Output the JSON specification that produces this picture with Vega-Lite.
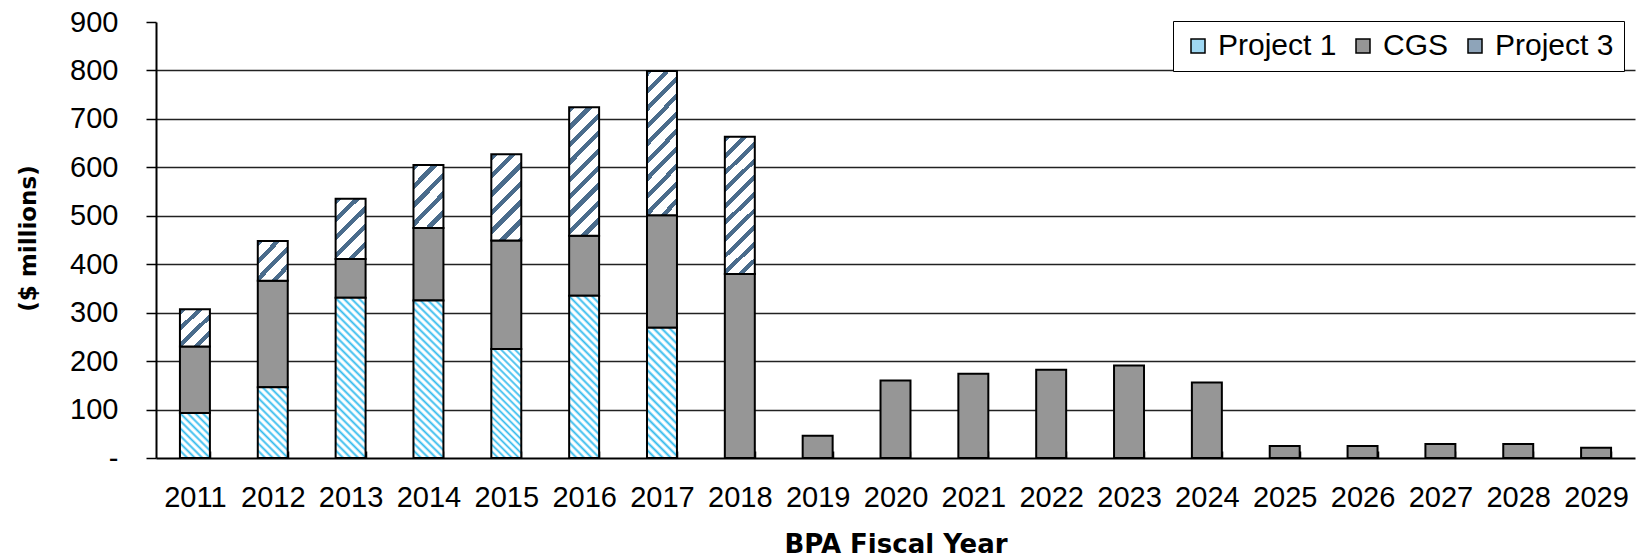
{
  "$schema": "https://vega.github.io/schema/vega-lite/v6.json",
  "autosize": {"type": "none"},
  "padding": {"left": 156, "top": 22, "right": 2, "bottom": 100},
  "width": 1479,
  "height": 436,
  "background": "white",
  "config": {"view": {"stroke": null}},
  "data": {
    "values": [
      {"year": "2011", "series": "Project 1", "value": 93},
      {"year": "2012", "series": "Project 1", "value": 146},
      {"year": "2013", "series": "Project 1", "value": 331},
      {"year": "2014", "series": "Project 1", "value": 325},
      {"year": "2015", "series": "Project 1", "value": 225},
      {"year": "2016", "series": "Project 1", "value": 335},
      {"year": "2017", "series": "Project 1", "value": 269},
      {"year": "2011", "series": "CGS", "value": 137},
      {"year": "2012", "series": "CGS", "value": 220},
      {"year": "2013", "series": "CGS", "value": 80},
      {"year": "2014", "series": "CGS", "value": 150},
      {"year": "2015", "series": "CGS", "value": 224},
      {"year": "2016", "series": "CGS", "value": 124},
      {"year": "2017", "series": "CGS", "value": 232},
      {"year": "2018", "series": "CGS", "value": 380},
      {"year": "2019", "series": "CGS", "value": 46},
      {"year": "2020", "series": "CGS", "value": 160},
      {"year": "2021", "series": "CGS", "value": 174},
      {"year": "2022", "series": "CGS", "value": 182},
      {"year": "2023", "series": "CGS", "value": 191},
      {"year": "2024", "series": "CGS", "value": 156},
      {"year": "2025", "series": "CGS", "value": 25},
      {"year": "2026", "series": "CGS", "value": 25},
      {"year": "2027", "series": "CGS", "value": 29},
      {"year": "2028", "series": "CGS", "value": 29},
      {"year": "2029", "series": "CGS", "value": 21},
      {"year": "2011", "series": "Project 3", "value": 77},
      {"year": "2012", "series": "Project 3", "value": 82},
      {"year": "2013", "series": "Project 3", "value": 124},
      {"year": "2014", "series": "Project 3", "value": 130},
      {"year": "2015", "series": "Project 3", "value": 178},
      {"year": "2016", "series": "Project 3", "value": 265},
      {"year": "2017", "series": "Project 3", "value": 298},
      {"year": "2018", "series": "Project 3", "value": 283}
    ]
  },
  "transform": [
    {"calculate": "indexof(['Project 1', 'CGS', 'Project 3'], datum.series)", "as": "ord"},
    {"stack": "value", "groupby": ["year"], "sort": [{"field": "ord", "order": "ascending"}], "as": ["lo", "hi"]}
  ],
  "encoding": {
    "x": {
      "field": "year",
      "type": "nominal",
      "scale": {
        "domain": ["2011","2012","2013","2014","2015","2016","2017","2018","2019","2020","2021","2022","2023","2024","2025","2026","2027","2028","2029"],
        "paddingInner": 0.615,
        "paddingOuter": 0.3075
      },
      "axis": {
        "title": "BPA Fiscal Year",
        "labelAngle": 0,
        "labelFont": "Liberation Sans",
        "labelFontSize": 29,
        "labelColor": "black",
        "labelPadding": 32,
        "tickBand": "extent",
        "tickSize": -7,
        "tickColor": "black",
        "tickWidth": 1.5,
        "domainColor": "black",
        "domainWidth": 2,
        "grid": false,
        "titleFont": "DejaVu Sans",
        "titleFontSize": 26,
        "titleFontWeight": "bold",
        "titleColor": "black",
        "titleY": 94,
        "titleBaseline": "alphabetic"
      }
    },
    "y": {
      "field": "hi",
      "type": "quantitative",
      "scale": {"domain": [0, 900], "nice": false},
      "axis": {
        "title": "($ millions)",
        "values": [0, 100, 200, 300, 400, 500, 600, 700, 800, 900],
        "grid": true,
        "gridColor": "#222",
        "gridWidth": 1.5,
        "gridOpacity": {"condition": {"test": "datum.value === 0 || datum.value === 900", "value": 0}, "value": 1},
        "domainColor": "black",
        "domainWidth": 2,
        "tickColor": "black",
        "tickSize": 10,
        "tickWidth": 1.5,
        "labelFont": "Liberation Sans",
        "labelFontSize": 29,
        "labelColor": "black",
        "labelPadding": 28,
        "labelExpr": "datum.value === 0 ? '-\u00a0\u00a0\u00a0\u00a0' : datum.label",
        "titleFont": "DejaVu Sans",
        "titleFontSize": 23,
        "titleFontWeight": "bold",
        "titleColor": "black",
        "titleAngle": -90,
        "titleAlign": "center",
        "titleBaseline": "middle",
        "titleX": -128,
        "titleY": 216
      }
    },
    "y2": {"field": "lo"}
  },
  "layer": [
    {
      "transform": [{"filter": "datum.series === 'CGS'"}],
      "mark": {"type": "bar", "stroke": "black", "strokeWidth": 2},
      "encoding": {
        "fill": {
          "field": "series",
          "type": "nominal",
          "scale": {"domain": ["Project 1", "CGS", "Project 3"], "range": ["#9fd8f3", "#969696", "#8ea4b9"]},
          "legend": {
            "orient": "none",
            "legendX": 1017,
            "legendY": -1,
            "direction": "horizontal",
            "gridAlign": "none",
            "title": null,
            "fillColor": "white",
            "strokeColor": "black",
            "padding": 10,
            "labelFont": "Liberation Sans",
            "labelFontSize": 30,
            "labelColor": "black",
            "labelOffset": 5,
            "columnPadding": 11,
            "symbolType": "square",
            "symbolSize": 196,
            "symbolStrokeColor": "black",
            "symbolStrokeWidth": 1.5
          }
        }
      }
    },
    {
      "transform": [{"filter": "datum.series === 'Project 1' && indexof(['2013', '2014', '2016'], datum.year) >= 0"}],
      "mark": {"type": "bar", "stroke": "black", "strokeWidth": 2, "fill": {"gradient": "linear", "x1": 0, "y1": 1, "x2": 0.2151, "y2": -0.1472, "stops": [{"offset":0,"color":"#3be"},{"offset":0.014,"color":"#fff"},{"offset":0.026,"color":"#fff"},{"offset":0.04,"color":"#3be"},{"offset":0.054,"color":"#fff"},{"offset":0.066,"color":"#fff"},{"offset":0.08,"color":"#3be"},{"offset":0.094,"color":"#fff"},{"offset":0.106,"color":"#fff"},{"offset":0.12,"color":"#3be"},{"offset":0.134,"color":"#fff"},{"offset":0.146,"color":"#fff"},{"offset":0.16,"color":"#3be"},{"offset":0.174,"color":"#fff"},{"offset":0.186,"color":"#fff"},{"offset":0.2,"color":"#3be"},{"offset":0.214,"color":"#fff"},{"offset":0.226,"color":"#fff"},{"offset":0.24,"color":"#3be"},{"offset":0.254,"color":"#fff"},{"offset":0.266,"color":"#fff"},{"offset":0.28,"color":"#3be"},{"offset":0.294,"color":"#fff"},{"offset":0.306,"color":"#fff"},{"offset":0.32,"color":"#3be"},{"offset":0.334,"color":"#fff"},{"offset":0.346,"color":"#fff"},{"offset":0.36,"color":"#3be"},{"offset":0.374,"color":"#fff"},{"offset":0.386,"color":"#fff"},{"offset":0.4,"color":"#3be"},{"offset":0.414,"color":"#fff"},{"offset":0.426,"color":"#fff"},{"offset":0.44,"color":"#3be"},{"offset":0.454,"color":"#fff"},{"offset":0.466,"color":"#fff"},{"offset":0.48,"color":"#3be"},{"offset":0.494,"color":"#fff"},{"offset":0.506,"color":"#fff"},{"offset":0.52,"color":"#3be"},{"offset":0.534,"color":"#fff"},{"offset":0.546,"color":"#fff"},{"offset":0.56,"color":"#3be"},{"offset":0.574,"color":"#fff"},{"offset":0.586,"color":"#fff"},{"offset":0.6,"color":"#3be"},{"offset":0.614,"color":"#fff"},{"offset":0.626,"color":"#fff"},{"offset":0.64,"color":"#3be"},{"offset":0.654,"color":"#fff"},{"offset":0.666,"color":"#fff"},{"offset":0.68,"color":"#3be"},{"offset":0.694,"color":"#fff"},{"offset":0.706,"color":"#fff"},{"offset":0.72,"color":"#3be"},{"offset":0.734,"color":"#fff"},{"offset":0.746,"color":"#fff"},{"offset":0.76,"color":"#3be"},{"offset":0.774,"color":"#fff"},{"offset":0.786,"color":"#fff"},{"offset":0.8,"color":"#3be"},{"offset":0.814,"color":"#fff"},{"offset":0.826,"color":"#fff"},{"offset":0.84,"color":"#3be"},{"offset":0.854,"color":"#fff"},{"offset":0.866,"color":"#fff"},{"offset":0.88,"color":"#3be"},{"offset":0.894,"color":"#fff"},{"offset":0.906,"color":"#fff"},{"offset":0.92,"color":"#3be"},{"offset":0.934,"color":"#fff"},{"offset":0.946,"color":"#fff"},{"offset":0.96,"color":"#3be"},{"offset":0.974,"color":"#fff"},{"offset":0.986,"color":"#fff"},{"offset":1,"color":"#3be"}]}}
    },
    {
      "transform": [{"filter": "datum.series === 'Project 1' && datum.year === '2017'"}],
      "mark": {"type": "bar", "stroke": "black", "strokeWidth": 2, "fill": {"gradient": "linear", "x1": 0, "y1": 1, "x2": 0.2689, "y2": -0.1683, "stops": [{"offset":0,"color":"#3be"},{"offset":0.0175,"color":"#fff"},{"offset":0.0325,"color":"#fff"},{"offset":0.05,"color":"#3be"},{"offset":0.0675,"color":"#fff"},{"offset":0.0825,"color":"#fff"},{"offset":0.1,"color":"#3be"},{"offset":0.1175,"color":"#fff"},{"offset":0.1325,"color":"#fff"},{"offset":0.15,"color":"#3be"},{"offset":0.1675,"color":"#fff"},{"offset":0.1825,"color":"#fff"},{"offset":0.2,"color":"#3be"},{"offset":0.2175,"color":"#fff"},{"offset":0.2325,"color":"#fff"},{"offset":0.25,"color":"#3be"},{"offset":0.2675,"color":"#fff"},{"offset":0.2825,"color":"#fff"},{"offset":0.3,"color":"#3be"},{"offset":0.3175,"color":"#fff"},{"offset":0.3325,"color":"#fff"},{"offset":0.35,"color":"#3be"},{"offset":0.3675,"color":"#fff"},{"offset":0.3825,"color":"#fff"},{"offset":0.4,"color":"#3be"},{"offset":0.4175,"color":"#fff"},{"offset":0.4325,"color":"#fff"},{"offset":0.45,"color":"#3be"},{"offset":0.4675,"color":"#fff"},{"offset":0.4825,"color":"#fff"},{"offset":0.5,"color":"#3be"},{"offset":0.5175,"color":"#fff"},{"offset":0.5325,"color":"#fff"},{"offset":0.55,"color":"#3be"},{"offset":0.5675,"color":"#fff"},{"offset":0.5825,"color":"#fff"},{"offset":0.6,"color":"#3be"},{"offset":0.6175,"color":"#fff"},{"offset":0.6325,"color":"#fff"},{"offset":0.65,"color":"#3be"},{"offset":0.6675,"color":"#fff"},{"offset":0.6825,"color":"#fff"},{"offset":0.7,"color":"#3be"},{"offset":0.7175,"color":"#fff"},{"offset":0.7325,"color":"#fff"},{"offset":0.75,"color":"#3be"},{"offset":0.7675,"color":"#fff"},{"offset":0.7825,"color":"#fff"},{"offset":0.8,"color":"#3be"},{"offset":0.8175,"color":"#fff"},{"offset":0.8325,"color":"#fff"},{"offset":0.85,"color":"#3be"},{"offset":0.8675,"color":"#fff"},{"offset":0.8825,"color":"#fff"},{"offset":0.9,"color":"#3be"},{"offset":0.9175,"color":"#fff"},{"offset":0.9325,"color":"#fff"},{"offset":0.95,"color":"#3be"},{"offset":0.9675,"color":"#fff"},{"offset":0.9825,"color":"#fff"},{"offset":1,"color":"#3be"}]}}
    },
    {
      "transform": [{"filter": "datum.series === 'Project 1' && datum.year === '2015'"}],
      "mark": {"type": "bar", "stroke": "black", "strokeWidth": 2, "fill": {"gradient": "linear", "x1": 0, "y1": 1, "x2": 0.3263, "y2": -0.1854, "stops": [{"offset":0,"color":"#3be"},{"offset":0.0175,"color":"#fff"},{"offset":0.0325,"color":"#fff"},{"offset":0.05,"color":"#3be"},{"offset":0.0675,"color":"#fff"},{"offset":0.0825,"color":"#fff"},{"offset":0.1,"color":"#3be"},{"offset":0.1175,"color":"#fff"},{"offset":0.1325,"color":"#fff"},{"offset":0.15,"color":"#3be"},{"offset":0.1675,"color":"#fff"},{"offset":0.1825,"color":"#fff"},{"offset":0.2,"color":"#3be"},{"offset":0.2175,"color":"#fff"},{"offset":0.2325,"color":"#fff"},{"offset":0.25,"color":"#3be"},{"offset":0.2675,"color":"#fff"},{"offset":0.2825,"color":"#fff"},{"offset":0.3,"color":"#3be"},{"offset":0.3175,"color":"#fff"},{"offset":0.3325,"color":"#fff"},{"offset":0.35,"color":"#3be"},{"offset":0.3675,"color":"#fff"},{"offset":0.3825,"color":"#fff"},{"offset":0.4,"color":"#3be"},{"offset":0.4175,"color":"#fff"},{"offset":0.4325,"color":"#fff"},{"offset":0.45,"color":"#3be"},{"offset":0.4675,"color":"#fff"},{"offset":0.4825,"color":"#fff"},{"offset":0.5,"color":"#3be"},{"offset":0.5175,"color":"#fff"},{"offset":0.5325,"color":"#fff"},{"offset":0.55,"color":"#3be"},{"offset":0.5675,"color":"#fff"},{"offset":0.5825,"color":"#fff"},{"offset":0.6,"color":"#3be"},{"offset":0.6175,"color":"#fff"},{"offset":0.6325,"color":"#fff"},{"offset":0.65,"color":"#3be"},{"offset":0.6675,"color":"#fff"},{"offset":0.6825,"color":"#fff"},{"offset":0.7,"color":"#3be"},{"offset":0.7175,"color":"#fff"},{"offset":0.7325,"color":"#fff"},{"offset":0.75,"color":"#3be"},{"offset":0.7675,"color":"#fff"},{"offset":0.7825,"color":"#fff"},{"offset":0.8,"color":"#3be"},{"offset":0.8175,"color":"#fff"},{"offset":0.8325,"color":"#fff"},{"offset":0.85,"color":"#3be"},{"offset":0.8675,"color":"#fff"},{"offset":0.8825,"color":"#fff"},{"offset":0.9,"color":"#3be"},{"offset":0.9175,"color":"#fff"},{"offset":0.9325,"color":"#fff"},{"offset":0.95,"color":"#3be"},{"offset":0.9675,"color":"#fff"},{"offset":0.9825,"color":"#fff"},{"offset":1,"color":"#3be"}]}}
    },
    {
      "transform": [{"filter": "datum.series === 'Project 1' && datum.year === '2012'"}],
      "mark": {"type": "bar", "stroke": "black", "strokeWidth": 2, "fill": {"gradient": "linear", "x1": 0, "y1": 1, "x2": 0.512, "y2": -0.207, "stops": [{"offset":0,"color":"#3be"},{"offset":0.026,"color":"#fff"},{"offset":0.049,"color":"#fff"},{"offset":0.075,"color":"#3be"},{"offset":0.101,"color":"#fff"},{"offset":0.124,"color":"#fff"},{"offset":0.15,"color":"#3be"},{"offset":0.176,"color":"#fff"},{"offset":0.199,"color":"#fff"},{"offset":0.225,"color":"#3be"},{"offset":0.251,"color":"#fff"},{"offset":0.274,"color":"#fff"},{"offset":0.3,"color":"#3be"},{"offset":0.326,"color":"#fff"},{"offset":0.349,"color":"#fff"},{"offset":0.375,"color":"#3be"},{"offset":0.401,"color":"#fff"},{"offset":0.424,"color":"#fff"},{"offset":0.45,"color":"#3be"},{"offset":0.476,"color":"#fff"},{"offset":0.499,"color":"#fff"},{"offset":0.525,"color":"#3be"},{"offset":0.551,"color":"#fff"},{"offset":0.574,"color":"#fff"},{"offset":0.6,"color":"#3be"},{"offset":0.626,"color":"#fff"},{"offset":0.649,"color":"#fff"},{"offset":0.675,"color":"#3be"},{"offset":0.701,"color":"#fff"},{"offset":0.724,"color":"#fff"},{"offset":0.75,"color":"#3be"},{"offset":0.776,"color":"#fff"},{"offset":0.799,"color":"#fff"},{"offset":0.825,"color":"#3be"},{"offset":0.851,"color":"#fff"},{"offset":0.874,"color":"#fff"},{"offset":0.9,"color":"#3be"},{"offset":0.926,"color":"#fff"},{"offset":0.949,"color":"#fff"},{"offset":0.975,"color":"#3be"},{"offset":1,"color":"#fff"}]}}
    },
    {
      "transform": [{"filter": "datum.series === 'Project 1' && datum.year === '2011'"}],
      "mark": {"type": "bar", "stroke": "black", "strokeWidth": 2, "fill": {"gradient": "linear", "x1": 0, "y1": 1, "x2": 0.7686, "y2": -0.1541, "stops": [{"offset":0,"color":"#3be"},{"offset":0.035,"color":"#fff"},{"offset":0.065,"color":"#fff"},{"offset":0.1,"color":"#3be"},{"offset":0.135,"color":"#fff"},{"offset":0.165,"color":"#fff"},{"offset":0.2,"color":"#3be"},{"offset":0.235,"color":"#fff"},{"offset":0.265,"color":"#fff"},{"offset":0.3,"color":"#3be"},{"offset":0.335,"color":"#fff"},{"offset":0.365,"color":"#fff"},{"offset":0.4,"color":"#3be"},{"offset":0.435,"color":"#fff"},{"offset":0.465,"color":"#fff"},{"offset":0.5,"color":"#3be"},{"offset":0.535,"color":"#fff"},{"offset":0.565,"color":"#fff"},{"offset":0.6,"color":"#3be"},{"offset":0.635,"color":"#fff"},{"offset":0.665,"color":"#fff"},{"offset":0.7,"color":"#3be"},{"offset":0.735,"color":"#fff"},{"offset":0.765,"color":"#fff"},{"offset":0.8,"color":"#3be"},{"offset":0.835,"color":"#fff"},{"offset":0.865,"color":"#fff"},{"offset":0.9,"color":"#3be"},{"offset":0.935,"color":"#fff"},{"offset":0.965,"color":"#fff"},{"offset":1,"color":"#3be"}]}}
    },
    {
      "transform": [{"filter": "datum.series === 'Project 3' && indexof(['2011', '2012'], datum.year) >= 0"}],
      "mark": {"type": "bar", "stroke": "black", "strokeWidth": 2, "fill": {"gradient": "linear", "x1": 0, "y1": 0, "x2": 0.8625, "y2": 1.1071, "stops": [{"offset":0,"color":"#4a6c8c"},{"offset":0.0875,"color":"#4a6c8c"},{"offset":0.0875,"color":"#fff"},{"offset":0.25,"color":"#fff"},{"offset":0.25,"color":"#4a6c8c"},{"offset":0.3375,"color":"#4a6c8c"},{"offset":0.3375,"color":"#fff"},{"offset":0.5,"color":"#fff"},{"offset":0.5,"color":"#4a6c8c"},{"offset":0.5875,"color":"#4a6c8c"},{"offset":0.5875,"color":"#fff"},{"offset":0.75,"color":"#fff"},{"offset":0.75,"color":"#4a6c8c"},{"offset":0.8375,"color":"#4a6c8c"},{"offset":0.8375,"color":"#fff"},{"offset":1,"color":"#fff"}]}}
    },
    {
      "transform": [{"filter": "datum.series === 'Project 3' && indexof(['2013', '2014'], datum.year) >= 0"}],
      "mark": {"type": "bar", "stroke": "black", "strokeWidth": 2, "fill": {"gradient": "linear", "x1": 0, "y1": 0, "x2": 0.586, "y2": 1.2019, "stops": [{"offset":0,"color":"#4a6c8c"},{"offset":0.07,"color":"#4a6c8c"},{"offset":0.07,"color":"#fff"},{"offset":0.2,"color":"#fff"},{"offset":0.2,"color":"#4a6c8c"},{"offset":0.27,"color":"#4a6c8c"},{"offset":0.27,"color":"#fff"},{"offset":0.4,"color":"#fff"},{"offset":0.4,"color":"#4a6c8c"},{"offset":0.47,"color":"#4a6c8c"},{"offset":0.47,"color":"#fff"},{"offset":0.6,"color":"#fff"},{"offset":0.6,"color":"#4a6c8c"},{"offset":0.67,"color":"#4a6c8c"},{"offset":0.67,"color":"#fff"},{"offset":0.8,"color":"#fff"},{"offset":0.8,"color":"#4a6c8c"},{"offset":0.87,"color":"#4a6c8c"},{"offset":0.87,"color":"#fff"},{"offset":1,"color":"#fff"}]}}
    },
    {
      "transform": [{"filter": "datum.series === 'Project 3' && datum.year === '2015'"}],
      "mark": {"type": "bar", "stroke": "black", "strokeWidth": 2, "fill": {"gradient": "linear", "x1": 0, "y1": 0, "x2": 0.4183, "y2": 1.2024, "stops": [{"offset":0,"color":"#4a6c8c"},{"offset":0.056,"color":"#4a6c8c"},{"offset":0.056,"color":"#fff"},{"offset":0.16,"color":"#fff"},{"offset":0.16,"color":"#4a6c8c"},{"offset":0.216,"color":"#4a6c8c"},{"offset":0.216,"color":"#fff"},{"offset":0.32,"color":"#fff"},{"offset":0.32,"color":"#4a6c8c"},{"offset":0.376,"color":"#4a6c8c"},{"offset":0.376,"color":"#fff"},{"offset":0.48,"color":"#fff"},{"offset":0.48,"color":"#4a6c8c"},{"offset":0.536,"color":"#4a6c8c"},{"offset":0.536,"color":"#fff"},{"offset":0.64,"color":"#fff"},{"offset":0.64,"color":"#4a6c8c"},{"offset":0.696,"color":"#4a6c8c"},{"offset":0.696,"color":"#fff"},{"offset":0.8,"color":"#fff"},{"offset":0.8,"color":"#4a6c8c"},{"offset":0.856,"color":"#4a6c8c"},{"offset":0.856,"color":"#fff"},{"offset":0.96,"color":"#fff"},{"offset":0.96,"color":"#4a6c8c"},{"offset":1,"color":"#4a6c8c"}]}}
    },
    {
      "transform": [{"filter": "datum.series === 'Project 3' && datum.year === '2016'"}],
      "mark": {"type": "bar", "stroke": "black", "strokeWidth": 2, "fill": {"gradient": "linear", "x1": 0, "y1": 0, "x2": 0.2734, "y2": 1.1698, "stops": [{"offset":0,"color":"#4a6c8c"},{"offset":0.04,"color":"#4a6c8c"},{"offset":0.04,"color":"#fff"},{"offset":0.11,"color":"#fff"},{"offset":0.11,"color":"#4a6c8c"},{"offset":0.15,"color":"#4a6c8c"},{"offset":0.15,"color":"#fff"},{"offset":0.22,"color":"#fff"},{"offset":0.22,"color":"#4a6c8c"},{"offset":0.26,"color":"#4a6c8c"},{"offset":0.26,"color":"#fff"},{"offset":0.33,"color":"#fff"},{"offset":0.33,"color":"#4a6c8c"},{"offset":0.37,"color":"#4a6c8c"},{"offset":0.37,"color":"#fff"},{"offset":0.44,"color":"#fff"},{"offset":0.44,"color":"#4a6c8c"},{"offset":0.48,"color":"#4a6c8c"},{"offset":0.48,"color":"#fff"},{"offset":0.55,"color":"#fff"},{"offset":0.55,"color":"#4a6c8c"},{"offset":0.59,"color":"#4a6c8c"},{"offset":0.59,"color":"#fff"},{"offset":0.66,"color":"#fff"},{"offset":0.66,"color":"#4a6c8c"},{"offset":0.7,"color":"#4a6c8c"},{"offset":0.7,"color":"#fff"},{"offset":0.77,"color":"#fff"},{"offset":0.77,"color":"#4a6c8c"},{"offset":0.81,"color":"#4a6c8c"},{"offset":0.81,"color":"#fff"},{"offset":0.88,"color":"#fff"},{"offset":0.88,"color":"#4a6c8c"},{"offset":0.92,"color":"#4a6c8c"},{"offset":0.92,"color":"#fff"},{"offset":0.99,"color":"#fff"},{"offset":0.99,"color":"#4a6c8c"},{"offset":1,"color":"#4a6c8c"}]}}
    },
    {
      "transform": [{"filter": "datum.series === 'Project 3' && indexof(['2017', '2018'], datum.year) >= 0"}],
      "mark": {"type": "bar", "stroke": "black", "strokeWidth": 2, "fill": {"gradient": "linear", "x1": 0, "y1": 0, "x2": 0.2474, "y2": 1.1604, "stops": [{"offset":0,"color":"#4a6c8c"},{"offset":0.035,"color":"#4a6c8c"},{"offset":0.035,"color":"#fff"},{"offset":0.1,"color":"#fff"},{"offset":0.1,"color":"#4a6c8c"},{"offset":0.135,"color":"#4a6c8c"},{"offset":0.135,"color":"#fff"},{"offset":0.2,"color":"#fff"},{"offset":0.2,"color":"#4a6c8c"},{"offset":0.235,"color":"#4a6c8c"},{"offset":0.235,"color":"#fff"},{"offset":0.3,"color":"#fff"},{"offset":0.3,"color":"#4a6c8c"},{"offset":0.335,"color":"#4a6c8c"},{"offset":0.335,"color":"#fff"},{"offset":0.4,"color":"#fff"},{"offset":0.4,"color":"#4a6c8c"},{"offset":0.435,"color":"#4a6c8c"},{"offset":0.435,"color":"#fff"},{"offset":0.5,"color":"#fff"},{"offset":0.5,"color":"#4a6c8c"},{"offset":0.535,"color":"#4a6c8c"},{"offset":0.535,"color":"#fff"},{"offset":0.6,"color":"#fff"},{"offset":0.6,"color":"#4a6c8c"},{"offset":0.635,"color":"#4a6c8c"},{"offset":0.635,"color":"#fff"},{"offset":0.7,"color":"#fff"},{"offset":0.7,"color":"#4a6c8c"},{"offset":0.735,"color":"#4a6c8c"},{"offset":0.735,"color":"#fff"},{"offset":0.8,"color":"#fff"},{"offset":0.8,"color":"#4a6c8c"},{"offset":0.835,"color":"#4a6c8c"},{"offset":0.835,"color":"#fff"},{"offset":0.9,"color":"#fff"},{"offset":0.9,"color":"#4a6c8c"},{"offset":0.935,"color":"#4a6c8c"},{"offset":0.935,"color":"#fff"},{"offset":1,"color":"#fff"}]}}
    }
  ]
}
